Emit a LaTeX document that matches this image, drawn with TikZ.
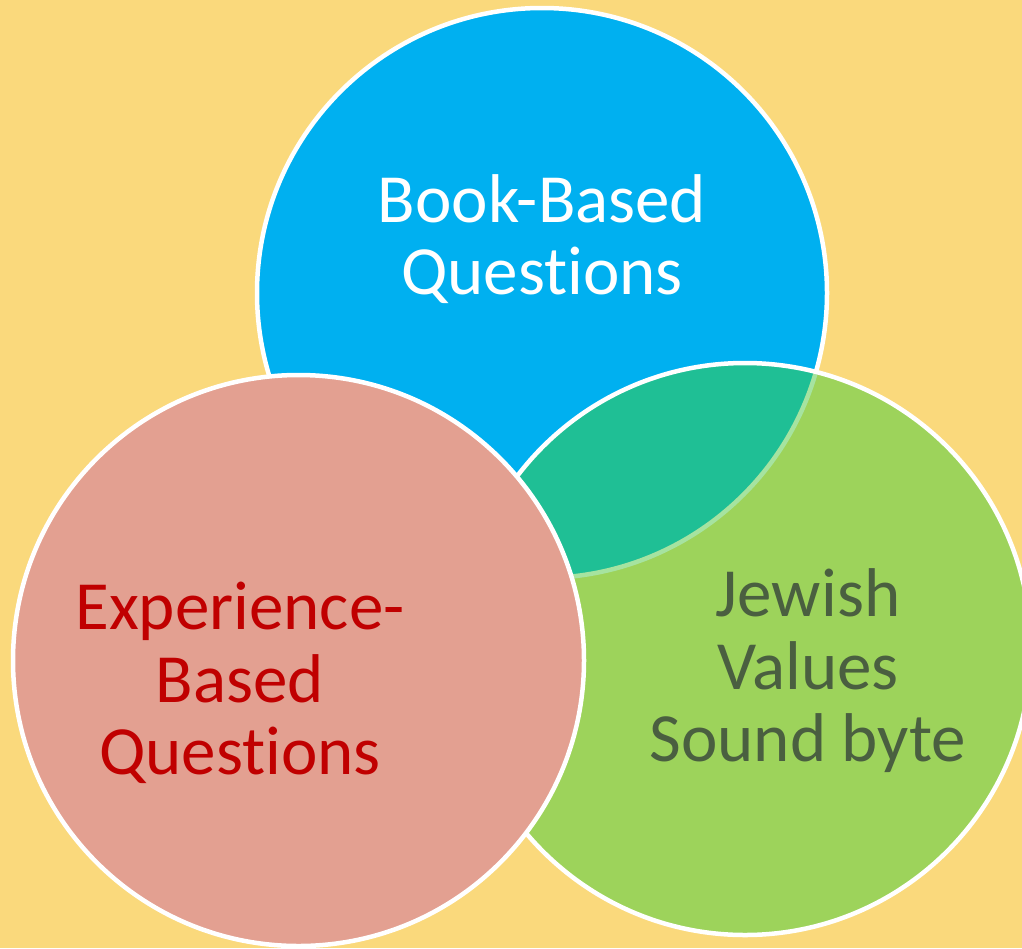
\documentclass[tikz,border=0pt]{standalone}
\usepackage{fontspec}
\setmainfont{Carlito}[Ligatures={NoCommon}]
\definecolor{bg}{HTML}{FAD97C}
\definecolor{cblue}{HTML}{00B0F0}
\definecolor{cgreen}{HTML}{9DD35B}
\definecolor{cteal}{HTML}{1FBF95}
\definecolor{clight}{HTML}{A6E3A0}
\definecolor{cpink}{HTML}{E3A091}
\definecolor{tred}{HTML}{C00000}
\definecolor{tdark}{HTML}{4A5F40}
\begin{document}
\begin{tikzpicture}[x=1pt,y=-1pt,
  ring/.style={draw=white,line width=4.5pt},
  lbl/.style={align=center,font=\fontsize{69}{72.5}\selectfont,inner sep=0pt}]
\useasboundingbox (0,0) rectangle (1022,948);
\fill[bg] (0,0) rectangle (1022,948);
\coordinate (cb) at (542,293);
\coordinate (cg) at (745,649);
\coordinate (cp) at (298.5,660.5);
\begin{scope}
\clip (0,0) rectangle (1022,948);
\fill[cblue] (cb) circle (285);
\draw[ring] (cb) circle (285);
\fill[cgreen] (cg) circle (286);
\begin{scope}
\clip (cg) circle (286);
\fill[cteal] (cb) circle (285);
\draw[clight,line width=4.5pt] (cb) circle (285);
\end{scope}
\draw[ring] (cg) circle (286);
\fill[cpink] (cp) circle (285.5);
\draw[ring] (cp) circle (285.5);
\end{scope}
\node[lbl,text=white] (book) at (542,239) {Book-Based\\Questions};
\node[lbl,text=tred] (exp) at (240,683) {Experience-\\Based\\Questions};
\node[lbl,text=tdark] (jew) at (808,671) {Jewish\\Values\\Sound byte};
\end{tikzpicture}
\end{document}
